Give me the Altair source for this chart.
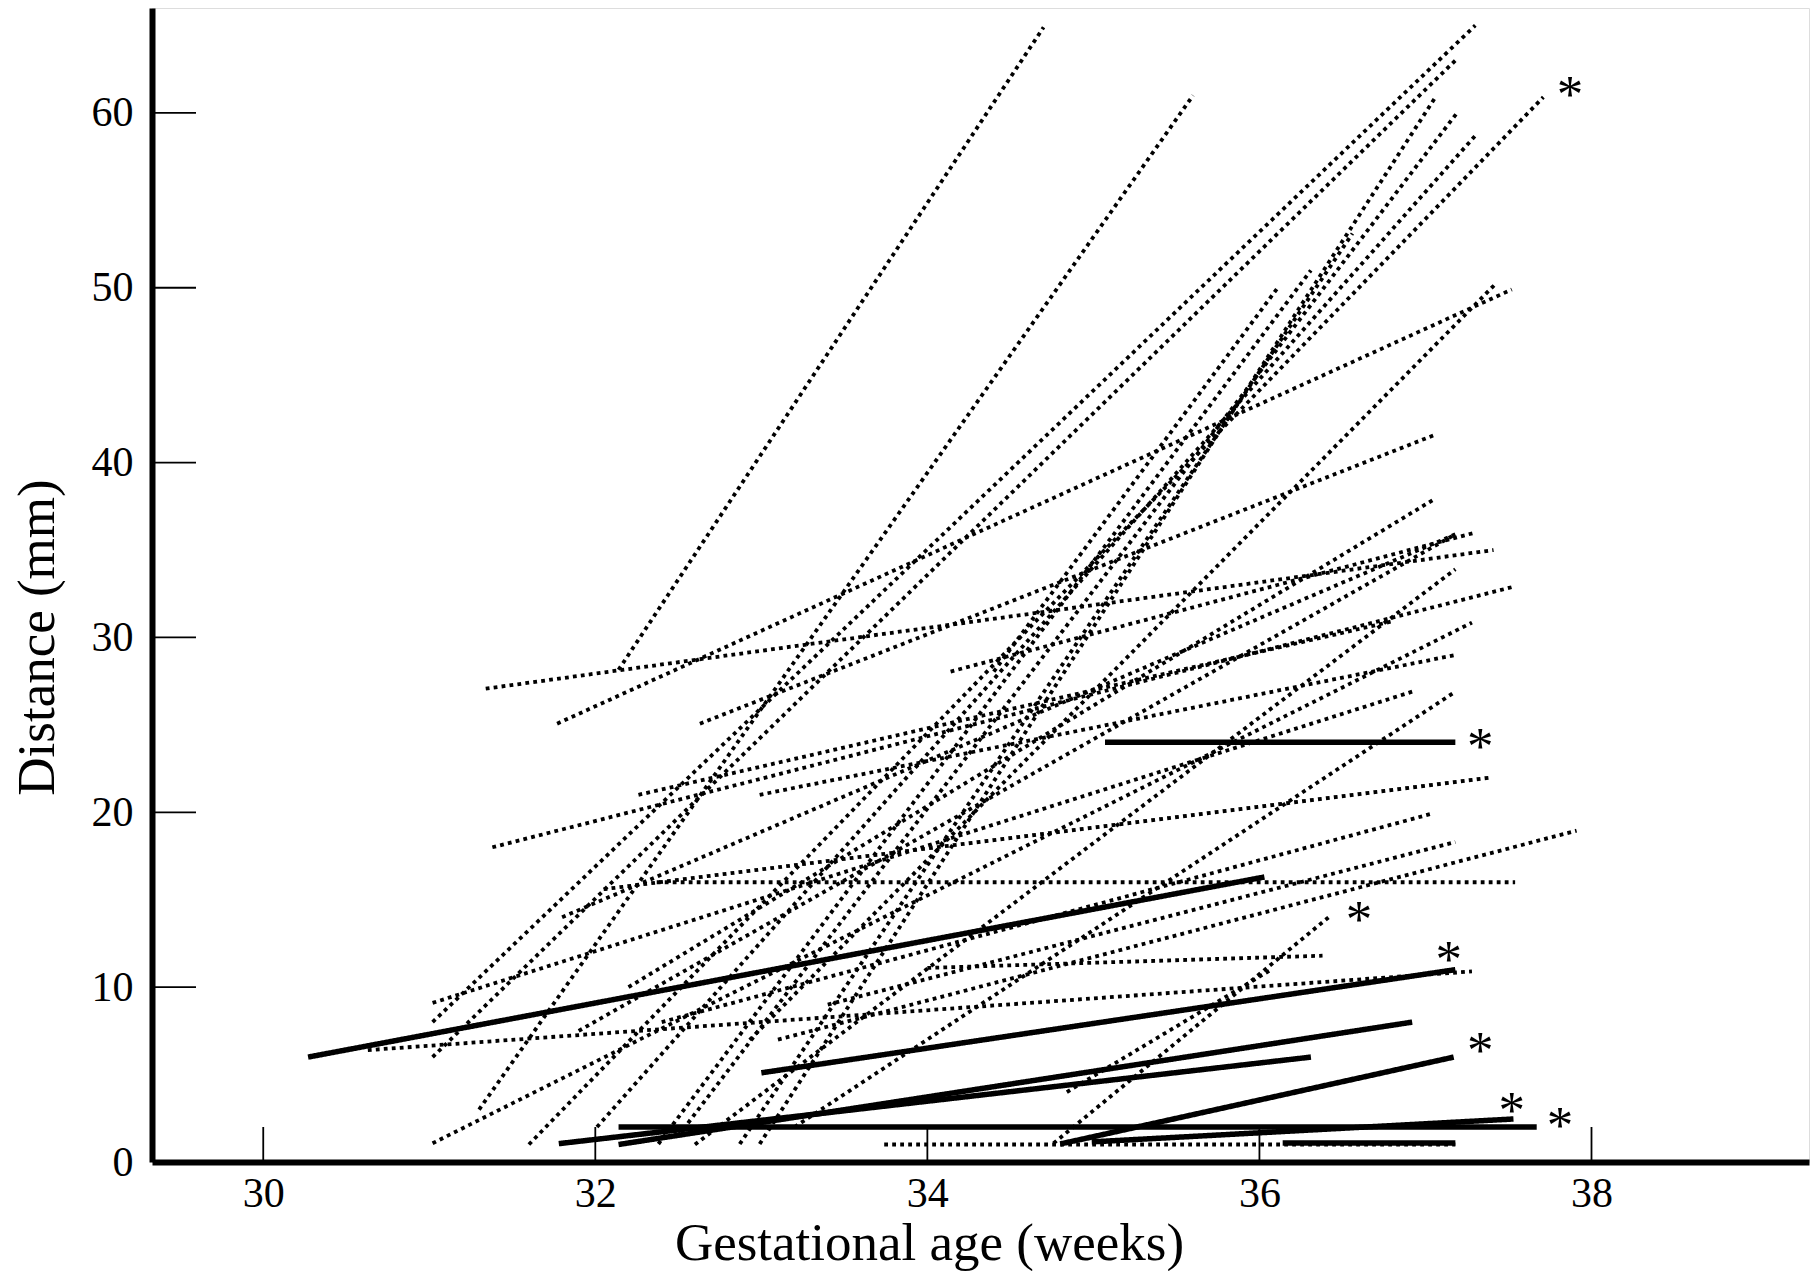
import altair as alt
import pandas as pd

# ---- data (gestational age in weeks, distance in mm) ----
x_start = [32.14, 31.30, 31.02, 31.02, 31.34, 31.77, 32.37, 33.74, 34.00, 34.84,
           34.76, 32.93, 32.99, 32.38, 32.87, 32.60, 32.01, 31.60, 32.50, 31.38,
           32.26, 32.99, 32.63, 34.14, 34.40, 31.02, 30.63, 31.02, 32.20, 31.90,
           32.05, 33.40, 33.20, 32.40, 31.80, 33.10,
           30.27, 35.07, 33.00, 31.78, 32.14, 32.14, 34.80, 34.99, 36.14]
y_start = [28.15, 3.0, 8.0, 6.0, 27.07, 25.07, 16.0, 1.0, 11.1, 4.0,
           1.07, 6.98, 1.03, 1.03, 1.03, 1.0, 2.0, 1.0, 1.5, 18.0,
           21.0, 21.0, 25.07, 28.05, 28.05, 9.1, 6.4, 1.07, 10.0, 7.5,
           15.6, 9.0, 2.0, 8.0, 14.0, 7.0,
           6.0, 24.0, 5.1, 1.05, 1.0, 2.0, 1.03, 1.15, 1.09]
x_end = [34.70, 35.60, 37.30, 37.18, 37.41, 37.52, 37.54, 37.18, 36.38, 36.07,
         36.43, 37.42, 37.06, 36.31, 36.56, 37.18, 37.30, 37.71, 37.19, 37.53,
         36.79, 37.18, 37.06, 37.30, 36.11, 36.94, 37.28, 37.28, 37.06, 37.18,
         37.40, 37.18, 37.18, 37.03, 37.18, 37.91,
         36.03, 37.18, 37.18, 36.31, 36.92, 37.67, 37.17, 37.53, 37.18]
y_end = [64.9, 61.0, 65.0, 63.0, 35.0, 49.9, 16.0, 1.0, 11.8, 11.0,
         14.1, 50.2, 60.9, 51.0, 53.1, 33.9, 58.7, 60.9, 60.0, 32.9,
         30.9, 29.0, 41.6, 36.0, 50.0, 26.96, 10.9, 30.85, 37.95, 35.9,
         22.0, 18.3, 26.9, 19.9, 35.9, 18.95,
         16.3, 24.0, 11.0, 6.0, 8.0, 2.0, 6.0, 2.46, 1.09]
kind = ["dotted"] * 36 + ["solid"] * 9

star_x = [37.87, 37.33, 36.60, 37.14, 37.33, 37.52, 37.81]
star_y = [61.5, 24.2, 14.3, 12.0, 6.8, 3.4, 2.5]

x_ticks = [30, 32, 34, 36, 38]
y_ticks = [10, 20, 30, 40, 50, 60]

# ---- geometry ----
W, H = 1657, 1154
XDOM = [29.33, 39.31]
YDOM = [0, 66.0]
FONT = "Liberation Serif"

segs = pd.DataFrame({"x1": x_start, "y1": y_start, "x2": x_end, "y2": y_end, "kind": kind})
stars = pd.DataFrame({"x": star_x, "y": star_y, "t": ["*"] * len(star_x)})
xt = pd.DataFrame({"v": x_ticks})
yt = pd.DataFrame({"v": y_ticks})

xs = alt.Scale(domain=XDOM, nice=False, zero=False)
ys = alt.Scale(domain=YDOM, nice=False, zero=False)

xaxis = alt.Axis(values=x_ticks, format="d", ticks=False, grid=False, domainColor="black", domainWidth=6,
                 labelFont=FONT, labelFontSize=42, labelColor="black", labelPadding=11,
                 title="Gestational age (weeks)", titleFont=FONT, titleFontSize=53,
                 titleFontWeight="normal", titleColor="black",
                 titleX=777, titleY=97, titleBaseline="alphabetic", titleAlign="center")
yaxis = alt.Axis(values=[0] + y_ticks, format="d", ticks=False, grid=False, domainColor="black", domainWidth=6,
                 labelFont=FONT, labelFontSize=42, labelColor="black", labelPadding=19,
                 title="Distance (mm)", titleFont=FONT, titleFontSize=53,
                 titleFontWeight="normal", titleColor="black", titleAngle=270,
                 titleX=-99, titleY=629, titleBaseline="alphabetic", titleAlign="center")

lines = alt.Chart(segs).mark_rule(color="black", strokeCap="butt").encode(
    x=alt.X("x1:Q", scale=xs, axis=xaxis),
    y=alt.Y("y1:Q", scale=ys, axis=yaxis),
    x2="x2:Q",
    y2="y2:Q",
    strokeDash=alt.StrokeDash("kind:N", scale=alt.Scale(domain=["dotted", "solid"],
                                                        range=[[3.8, 4.2], [1, 0]]), legend=None),
    strokeWidth=alt.StrokeWidth("kind:N", scale=alt.Scale(domain=["dotted", "solid"],
                                                          range=[3.8, 5.5]), legend=None),
)

star_marks = alt.Chart(stars).mark_text(font=FONT, fontSize=53, color="black",
                                        baseline="middle", align="center", dy=9).encode(
    x=alt.X("x:Q", scale=xs), y=alt.Y("y:Q", scale=ys), text="t:N")

xtick_marks = alt.Chart(xt).mark_rule(color="black", strokeWidth=1.8).encode(
    x=alt.X("v:Q", scale=xs), y=alt.value(H), y2=alt.value(H - 35))
ytick_marks = alt.Chart(yt).mark_rule(color="black", strokeWidth=1.8).encode(
    y=alt.Y("v:Q", scale=ys), x=alt.value(0), x2=alt.value(44))

chart = alt.layer(lines, star_marks, xtick_marks, ytick_marks).properties(
    width=W, height=H,
    autosize=alt.AutoSizeParams(type="none"),
    padding={"left": 144, "top": 0, "right": 1, "bottom": 109},
).configure_view(stroke=None).configure(background="white")

chart.save("out.html", embed_options={"renderer": "svg", "actions": False})
